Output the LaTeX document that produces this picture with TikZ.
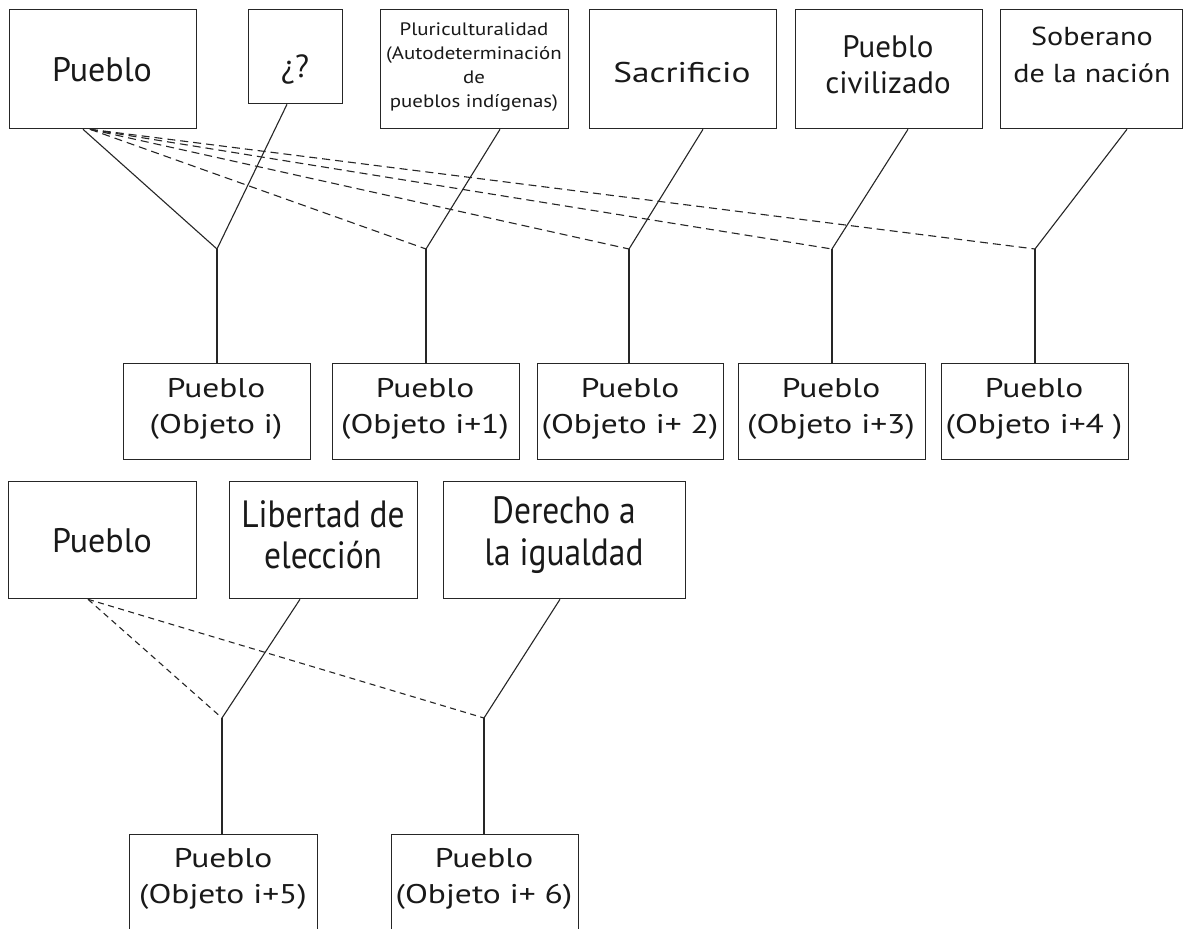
\documentclass[tikz,border=0pt]{standalone}
\usepackage{fontspec}
\setmainfont{PT Sans}
% widened and narrowed cuts of the same face
\newfontfamily\ptwide[FakeStretch=1.24]{PT Sans}
\newfontfamily\ptwider[FakeStretch=1.16]{PT Sans}
\newfontfamily\ptnarrow[FakeStretch=0.88]{PT Sans}
\begin{document}
\begin{tikzpicture}[x=1pt,y=-1pt,
  box/.style={draw=black!85, line width=1.3pt, inner sep=0pt, anchor=north west},
  lbl/.style={inner sep=0pt, align=center, anchor=base, text=black!90},
  link/.style={line width=1.1pt, draw=black!85},
  dlink/.style={link, dash pattern=on 8pt off 5pt},
  dlinkb/.style={link, dash pattern=on 6pt off 4.5pt}]
\useasboundingbox (0,0) rectangle (1184,929);
\fill[white] (0,0) rectangle (1184,929);
\clip (0,0) rectangle (1184,929);

% ---- first group: concept boxes ----
\node[box, minimum width=187pt, minimum height=119pt] (A) at (9,9) {};
\node[box, minimum width=94pt,  minimum height=94pt]  (Q) at (248,9) {};
\node[box, minimum width=188pt, minimum height=119pt] (P) at (380,9) {};
\node[box, minimum width=187pt, minimum height=119pt] (S) at (589,9) {};
\node[box, minimum width=187pt, minimum height=119pt] (C) at (795,9) {};
\node[box, minimum width=182pt, minimum height=119pt] (N) at (1000,9) {};

% (base anchor = baseline of the last line)
\node[lbl, font=\fontsize{34}{38}\selectfont] (At) at (102,81) {Pueblo};
\node[lbl, font=\fontsize{32}{38}\selectfont] (Qt) at (295,77) {¿?};
\node[lbl, font=\ptwider\fontsize{18}{24}\selectfont] (Pt) at (474,107) {Pluriculturalidad\\(Autodeterminación\\de\\pueblos indígenas)};
\node[lbl, font=\ptwide\fontsize{28.5}{36}\selectfont] (St) at (682,82) {Sacrificio};
\node[lbl, font=\fontsize{31}{36}\selectfont] (Ct) at (888,93) {Pueblo\\civilizado};
\node[lbl, font=\ptwider\fontsize{26}{37}\selectfont] (Nt) at (1092,82) {Soberano\\de la nación};

% junctions
\coordinate (j1) at (217,249);
\coordinate (j2) at (426,249);
\coordinate (j3) at (629,249);
\coordinate (j4) at (832,249);
\coordinate (j5) at (1035,249);

% object boxes
\node[box, minimum width=187pt, minimum height=96pt] (B1) at (123,363) {};
\node[box, minimum width=187pt, minimum height=96pt] (B2) at (332,363) {};
\node[box, minimum width=186pt, minimum height=96pt] (B3) at (537,363) {};
\node[box, minimum width=187pt, minimum height=96pt] (B4) at (738,363) {};
\node[box, minimum width=187pt, minimum height=96pt] (B5) at (941,363) {};

\tikzset{objlbl/.style={lbl, font=\ptwide\fontsize{27}{36}\selectfont}}
\node[objlbl] (B1t) at (216,433) {Pueblo\\(Objeto i)};
\node[objlbl] (B2t) at (425,433) {Pueblo\\(Objeto i+1)};
\node[objlbl] (B3t) at (630,433) {Pueblo\\(Objeto i+ 2)};
\node[objlbl] (B4t) at (831,433) {Pueblo\\(Objeto i+3)};
\node[objlbl] (B5t) at (1034,433) {Pueblo\\(Objeto i+4 )};

% connectors
\draw[link] ([xshift=74pt]A.south west) -- (j1);
\draw[link] ([xshift=39pt]Q.south west) -- (j1);
\foreach \j in {j2,j3,j4,j5}
  \draw[dlink] ([xshift=81pt]A.south west) -- (\j);
\draw[link] ([xshift=120pt]P.south west) -- (j2);
\draw[link] ([xshift=114pt]S.south west) -- (j3);
\draw[link] ([xshift=113pt]C.south west) -- (j4);
\draw[link] ([xshift=127pt]N.south west) -- (j5);
\draw[link] (j1) -- (j1 |- B1.north);
\draw[link] (j2) -- (j2 |- B2.north);
\draw[link] (j3) -- (j3 |- B3.north);
\draw[link] (j4) -- (j4 |- B4.north);
\draw[link] (j5) -- (j5 |- B5.north);

% ---- second group ----
\node[box, minimum width=188pt, minimum height=117pt] (D) at (8,481) {};
\node[box, minimum width=188pt, minimum height=117pt] (L) at (229,481) {};
\node[box, minimum width=242pt, minimum height=117pt] (R) at (443,481) {};

\node[lbl, font=\fontsize{34}{38}\selectfont] (Dt) at (102,552) {Pueblo};
\node[lbl, font=\ptnarrow\fontsize{38}{41}\selectfont] (Lt) at (323,568) {Libertad de\\elección};
\node[lbl, font=\ptnarrow\fontsize{38}{42}\selectfont] (Rt) at (564,565) {Derecho a\\la igualdad};

\coordinate (k1) at (222,718);
\coordinate (k2) at (484,718);

\node[box, minimum width=188pt, minimum height=110pt] (E1) at (129,834) {};
\node[box, minimum width=187pt, minimum height=110pt] (E2) at (391,834) {};

\node[objlbl] (E1t) at (223,903) {Pueblo\\(Objeto i+5)};
\node[objlbl] (E2t) at (484,903) {Pueblo\\(Objeto i+ 6)};

\draw[dlinkb] ([xshift=80pt]D.south west) -- (k1);
\draw[dlinkb] ([xshift=80pt]D.south west) -- (k2);
\draw[link] ([xshift=71pt]L.south west) -- (k1);
\draw[link] ([xshift=117pt]R.south west) -- (k2);
\draw[link] (k1) -- (k1 |- E1.north);
\draw[link] (k2) -- (k2 |- E2.north);
\end{tikzpicture}
\end{document}
